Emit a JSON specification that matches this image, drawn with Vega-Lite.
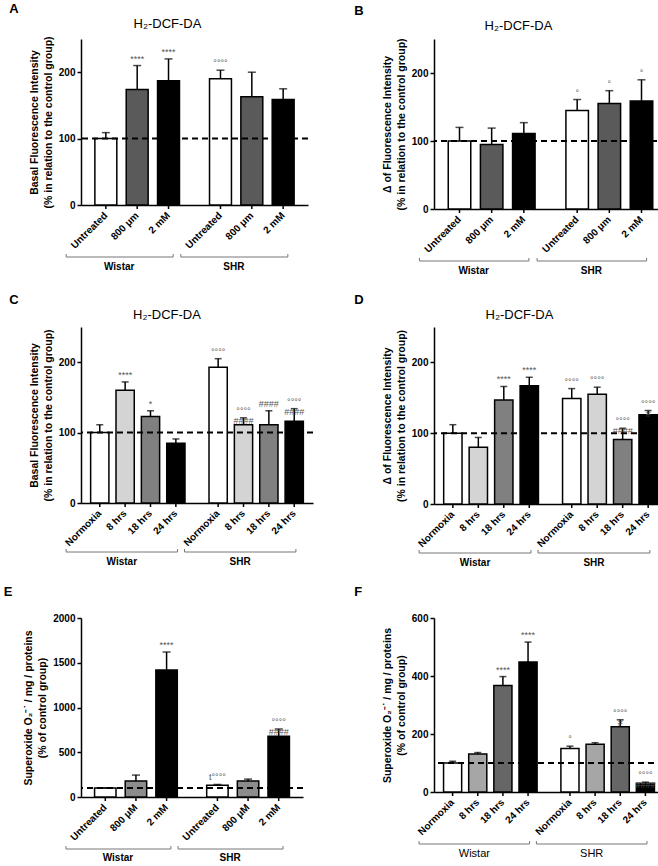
{
 "$schema": "https://vega.github.io/schema/vega-lite/v6.json",
 "background": "white",
 "padding": {"left": 3, "top": 2, "right": 0, "bottom": 0},
 "datasets": {
  "A": [
   {"group":"Wistar","cond":"Untreated","mean":100,"hi":109,"ann":""},
   {"group":"Wistar","cond":"800 μm","mean":174,"hi":210,"ann":"****"},
   {"group":"Wistar","cond":"2 mM","mean":187,"hi":220,"ann":"****"},
   {"group":"SHR","cond":"Untreated","mean":190,"hi":203,"ann":"°°°°"},
   {"group":"SHR","cond":"800 μm","mean":163,"hi":200,"ann":""},
   {"group":"SHR","cond":"2 mM","mean":159,"hi":175,"ann":""}
  ],
  "B": [
   {"group":"Wistar","cond":"Untreated","mean":100,"hi":120,"ann":""},
   {"group":"Wistar","cond":"800 μm","mean":95,"hi":119,"ann":""},
   {"group":"Wistar","cond":"2 mM","mean":111,"hi":127,"ann":""},
   {"group":"SHR","cond":"Untreated","mean":145,"hi":161,"ann":"°"},
   {"group":"SHR","cond":"800 μm","mean":155,"hi":174,"ann":"°"},
   {"group":"SHR","cond":"2 mM","mean":159,"hi":190,"ann":"°"}
  ],
  "C": [
   {"group":"Wistar","cond":"Normoxia","mean":100,"hi":111,"ann":""},
   {"group":"Wistar","cond":"8 hrs","mean":160,"hi":172,"ann":"****"},
   {"group":"Wistar","cond":"18 hrs","mean":123,"hi":131,"ann":"*"},
   {"group":"Wistar","cond":"24 hrs","mean":85,"hi":91,"ann":""},
   {"group":"SHR","cond":"Normoxia","mean":193,"hi":205,"ann":"°°°°"},
   {"group":"SHR","cond":"8 hrs","mean":111,"hi":121,"ann":"°°°°\n####"},
   {"group":"SHR","cond":"18 hrs","mean":111,"hi":131,"ann":"####"},
   {"group":"SHR","cond":"24 hrs","mean":116,"hi":134,"ann":"°°°°\n####"}
  ],
  "D": [
   {"group":"Wistar","cond":"Normoxia","mean":100,"hi":112,"ann":""},
   {"group":"Wistar","cond":"8 hrs","mean":80,"hi":94,"ann":""},
   {"group":"Wistar","cond":"18 hrs","mean":147,"hi":166,"ann":"****"},
   {"group":"Wistar","cond":"24 hrs","mean":167,"hi":179,"ann":"****"},
   {"group":"SHR","cond":"Normoxia","mean":149,"hi":163,"ann":"°°°°"},
   {"group":"SHR","cond":"8 hrs","mean":155,"hi":165,"ann":"°°°°"},
   {"group":"SHR","cond":"18 hrs","mean":91,"hi":107,"ann":"°°°°\n####"},
   {"group":"SHR","cond":"24 hrs","mean":126,"hi":132,"ann":"°°°°\n#"}
  ],
  "E": [
   {"group":"Wistar","cond":"Untreated","mean":100,"hi":100,"ann":""},
   {"group":"Wistar","cond":"800 μM","mean":180,"hi":245,"ann":""},
   {"group":"Wistar","cond":"2 mM","mean":1420,"hi":1620,"ann":"****"},
   {"group":"SHR","cond":"Untreated","mean":130,"hi":140,"ann":"t°°°°"},
   {"group":"SHR","cond":"800 μM","mean":180,"hi":200,"ann":""},
   {"group":"SHR","cond":"2 mM","mean":680,"hi":760,"ann":"°°°°\n####"}
  ],
  "F": [
   {"group":"Wistar","cond":"Normoxia","mean":100,"hi":106,"ann":""},
   {"group":"Wistar","cond":"8 hrs","mean":131,"hi":136,"ann":""},
   {"group":"Wistar","cond":"18 hrs","mean":367,"hi":398,"ann":"****"},
   {"group":"Wistar","cond":"24 hrs","mean":448,"hi":517,"ann":"****"},
   {"group":"SHR","cond":"Normoxia","mean":150,"hi":158,"ann":"°"},
   {"group":"SHR","cond":"8 hrs","mean":165,"hi":170,"ann":""},
   {"group":"SHR","cond":"18 hrs","mean":225,"hi":249,"ann":"°°°°\n#"},
   {"group":"SHR","cond":"24 hrs","mean":30,"hi":34,"ann":"°°°°\n####"}
  ]
 },
 "columns": 2,
 "spacing": {"row": 18, "column": 40},
 "resolve": {"scale": {"fill": "independent", "xOffset": "independent"}},
 "concat": [
  {
   "title": {"text":"A","anchor":"start","fontSize":13,"fontWeight":"bold","offset":2,"dx":-20},
   "vconcat": [{
    "title": {"text":"H₂-DCF-DA","fontSize":13,"fontWeight":"normal","offset":5,"frame":"group","dx":-27},
    "data": {"name":"A"},
    "width": 227, "height": 166,
    "layer": [
     {"mark":{"type":"bar","stroke":"black","strokeWidth":1.5},
      "encoding":{
       "x":{"field":"group","type":"nominal","sort":["Wistar","SHR"],"title":null,"scale":{"domain":["Wistar","SHR"],"paddingInner":0.18,"paddingOuter":0.08},"axis":{"labels":false,"ticks":false,"title":null}},
       "xOffset":{"field":"cond","type":"nominal","sort":null,"scale":{"domain":["Untreated","800 μm","2 mM"],"paddingInner":0.3,"paddingOuter":0.15}},
       "y":{"field":"mean","type":"quantitative","scale":{"domain":[0,250],"nice":false},"axis":{"values":[0,50,100,150,200,250],"format":"d","title":["Basal Fluorescence Intensity","(% in relation to the control group)"]}},
       "fill":{"field":"cond","type":"nominal","sort":null,"scale":{"domain":["Untreated","800 μm","2 mM"],"range":["white","#5a5a5a","black"]},"legend":null}}},
     {"mark":{"type":"rule","strokeWidth":1.5,"color":"black"},"encoding":{"x":{"field":"group","type":"nominal","sort":["Wistar","SHR"]},"xOffset":{"field":"cond","type":"nominal","sort":null},"y":{"field":"mean","type":"quantitative"},"y2":{"field":"hi"}}},
     {"mark":{"type":"tick","thickness":1.5,"size":8,"color":"black"},"encoding":{"x":{"field":"group","type":"nominal","sort":["Wistar","SHR"]},"xOffset":{"field":"cond","type":"nominal","sort":null},"y":{"field":"hi","type":"quantitative"}}},
     {"mark":{"type":"text","baseline":"bottom","dy":-2,"fontSize":9,"color":"#555","lineBreak":"\n","lineHeight":10},"encoding":{"x":{"field":"group","type":"nominal","sort":["Wistar","SHR"]},"xOffset":{"field":"cond","type":"nominal","sort":null},"y":{"field":"hi","type":"quantitative"},"text":{"field":"ann"}}},
     {"mark":{"type":"rule","strokeWidth":1.5,"color":"black","y2Offset":4},"encoding":{"x":{"field":"group","type":"nominal","sort":["Wistar","SHR"]},"xOffset":{"field":"cond","type":"nominal","sort":null},"y":{"datum":0},"y2":{"datum":0}}},
     {"mark":{"type":"text","angle":315,"align":"right","baseline":"middle","fontSize":10,"fontWeight":"bold","yOffset":9,"xOffset":2},"encoding":{"x":{"field":"group","type":"nominal","sort":["Wistar","SHR"]},"xOffset":{"field":"cond","type":"nominal","sort":null},"y":{"datum":0},"text":{"field":"cond"}}},
     {"transform":[{"aggregate":[{"op":"count","as":"n"}],"groupby":["group"]}],
      "layer":[
       {"mark":{"type":"rule","strokeWidth":1,"color":"#777","yOffset":52,"xOffset":-24,"x2Offset":-11},"encoding":{"x":{"field":"group","type":"nominal","sort":["Wistar","SHR"],"bandPosition":0},"x2":{"field":"group","bandPosition":1},"y":{"datum":0}}},
       {"mark":{"type":"rule","strokeWidth":1,"color":"#777","yOffset":52,"y2Offset":49,"xOffset":-24},"encoding":{"x":{"field":"group","type":"nominal","sort":["Wistar","SHR"],"bandPosition":0},"y":{"datum":0},"y2":{"datum":0}}},
       {"mark":{"type":"rule","strokeWidth":1,"color":"#777","yOffset":52,"y2Offset":49,"xOffset":-11},"encoding":{"x":{"field":"group","type":"nominal","sort":["Wistar","SHR"],"bandPosition":1},"y":{"datum":0},"y2":{"datum":0}}},
       {"mark":{"type":"text","baseline":"top","fontSize":10,"fontWeight":"bold","yOffset":57,"xOffset":-18},"encoding":{"x":{"field":"group","type":"nominal","sort":["Wistar","SHR"]},"y":{"datum":0},"text":{"field":"group"}}}
      ]},
     {"transform":[{"aggregate":[{"op":"count","as":"n"}]}],
      "mark":{"type":"rule","strokeDash":[6,4],"strokeWidth":2,"color":"black"},"encoding":{"y":{"datum":100}}}
    ]
   }]
  },
  {
   "title": {"text":"B","anchor":"start","fontSize":13,"fontWeight":"bold","offset":2,"dx":-28},
   "vconcat": [{
    "title": {"text":"H₂-DCF-DA","fontSize":13,"fontWeight":"normal","offset":5,"frame":"group","dx":-32},
    "data": {"name":"B"},
    "width": 233, "height": 170,
    "layer": [
     {"mark":{"type":"bar","stroke":"black","strokeWidth":1.5},
      "encoding":{
       "x":{"field":"group","type":"nominal","sort":["Wistar","SHR"],"title":null,"scale":{"domain":["Wistar","SHR"],"paddingInner":0.18,"paddingOuter":0.08},"axis":{"labels":false,"ticks":false,"title":null}},
       "xOffset":{"field":"cond","type":"nominal","sort":null,"scale":{"domain":["Untreated","800 μm","2 mM"],"paddingInner":0.3,"paddingOuter":0.15}},
       "y":{"field":"mean","type":"quantitative","scale":{"domain":[0,250],"nice":false},"axis":{"values":[0,50,100,150,200,250],"format":"d","title":["Δ of Fluorescence Intensity","(% in relation to the control group)"]}},
       "fill":{"field":"cond","type":"nominal","sort":null,"scale":{"domain":["Untreated","800 μm","2 mM"],"range":["white","#5a5a5a","black"]},"legend":null}}},
     {"mark":{"type":"rule","strokeWidth":1.5,"color":"black"},"encoding":{"x":{"field":"group","type":"nominal","sort":["Wistar","SHR"]},"xOffset":{"field":"cond","type":"nominal","sort":null},"y":{"field":"mean","type":"quantitative"},"y2":{"field":"hi"}}},
     {"mark":{"type":"tick","thickness":1.5,"size":8,"color":"black"},"encoding":{"x":{"field":"group","type":"nominal","sort":["Wistar","SHR"]},"xOffset":{"field":"cond","type":"nominal","sort":null},"y":{"field":"hi","type":"quantitative"}}},
     {"mark":{"type":"text","baseline":"bottom","dy":-2,"fontSize":9,"color":"#555","lineBreak":"\n","lineHeight":10},"encoding":{"x":{"field":"group","type":"nominal","sort":["Wistar","SHR"]},"xOffset":{"field":"cond","type":"nominal","sort":null},"y":{"field":"hi","type":"quantitative"},"text":{"field":"ann"}}},
     {"mark":{"type":"rule","strokeWidth":1.5,"color":"black","y2Offset":4},"encoding":{"x":{"field":"group","type":"nominal","sort":["Wistar","SHR"]},"xOffset":{"field":"cond","type":"nominal","sort":null},"y":{"datum":0},"y2":{"datum":0}}},
     {"mark":{"type":"text","angle":315,"align":"right","baseline":"middle","fontSize":10,"fontWeight":"bold","yOffset":9,"xOffset":2},"encoding":{"x":{"field":"group","type":"nominal","sort":["Wistar","SHR"]},"xOffset":{"field":"cond","type":"nominal","sort":null},"y":{"datum":0},"text":{"field":"cond"}}},
     {"transform":[{"aggregate":[{"op":"count","as":"n"}],"groupby":["group"]}],
      "layer":[
       {"mark":{"type":"rule","strokeWidth":1,"color":"#777","yOffset":52,"xOffset":-24,"x2Offset":-11},"encoding":{"x":{"field":"group","type":"nominal","sort":["Wistar","SHR"],"bandPosition":0},"x2":{"field":"group","bandPosition":1},"y":{"datum":0}}},
       {"mark":{"type":"rule","strokeWidth":1,"color":"#777","yOffset":52,"y2Offset":49,"xOffset":-24},"encoding":{"x":{"field":"group","type":"nominal","sort":["Wistar","SHR"],"bandPosition":0},"y":{"datum":0},"y2":{"datum":0}}},
       {"mark":{"type":"rule","strokeWidth":1,"color":"#777","yOffset":52,"y2Offset":49,"xOffset":-11},"encoding":{"x":{"field":"group","type":"nominal","sort":["Wistar","SHR"],"bandPosition":1},"y":{"datum":0},"y2":{"datum":0}}},
       {"mark":{"type":"text","baseline":"top","fontSize":10,"fontWeight":"bold","yOffset":57,"xOffset":-18},"encoding":{"x":{"field":"group","type":"nominal","sort":["Wistar","SHR"]},"y":{"datum":0},"text":{"field":"group"}}}
      ]},
     {"transform":[{"aggregate":[{"op":"count","as":"n"}]}],
      "mark":{"type":"rule","strokeDash":[6,4],"strokeWidth":2,"color":"black"},"encoding":{"y":{"datum":100}}}
    ]
   }]
  },
  {
   "title": {"text":"C","anchor":"start","fontSize":13,"fontWeight":"bold","offset":2,"dx":-20},
   "vconcat": [{
    "title": {"text":"H₂-DCF-DA","fontSize":13,"fontWeight":"normal","offset":5,"frame":"group","dx":-30},
    "data": {"name":"C"},
    "width": 232, "height": 176,
    "layer": [
     {"mark":{"type":"bar","stroke":"black","strokeWidth":1.5},
      "encoding":{
       "x":{"field":"group","type":"nominal","sort":["Wistar","SHR"],"title":null,"scale":{"domain":["Wistar","SHR"],"paddingInner":0.16,"paddingOuter":0.06},"axis":{"labels":false,"ticks":false,"title":null}},
       "xOffset":{"field":"cond","type":"nominal","sort":null,"scale":{"domain":["Normoxia","8 hrs","18 hrs","24 hrs"],"paddingInner":0.28,"paddingOuter":0.1}},
       "y":{"field":"mean","type":"quantitative","scale":{"domain":[0,250],"nice":false},"axis":{"values":[0,50,100,150,200,250],"format":"d","title":["Basal Fluorescence Intensity","(% in relation to the control group)"]}},
       "fill":{"field":"cond","type":"nominal","sort":null,"scale":{"domain":["Normoxia","8 hrs","18 hrs","24 hrs"],"range":["white","#d4d4d4","#808080","black"]},"legend":null}}},
     {"mark":{"type":"rule","strokeWidth":1.5,"color":"black"},"encoding":{"x":{"field":"group","type":"nominal","sort":["Wistar","SHR"]},"xOffset":{"field":"cond","type":"nominal","sort":null},"y":{"field":"mean","type":"quantitative"},"y2":{"field":"hi"}}},
     {"mark":{"type":"tick","thickness":1.5,"size":7,"color":"black"},"encoding":{"x":{"field":"group","type":"nominal","sort":["Wistar","SHR"]},"xOffset":{"field":"cond","type":"nominal","sort":null},"y":{"field":"hi","type":"quantitative"}}},
     {"mark":{"type":"text","baseline":"bottom","dy":-2,"fontSize":9,"color":"#555","lineBreak":"\n","lineHeight":10},"encoding":{"x":{"field":"group","type":"nominal","sort":["Wistar","SHR"]},"xOffset":{"field":"cond","type":"nominal","sort":null},"y":{"field":"hi","type":"quantitative"},"text":{"field":"ann"}}},
     {"mark":{"type":"rule","strokeWidth":1.5,"color":"black","y2Offset":4},"encoding":{"x":{"field":"group","type":"nominal","sort":["Wistar","SHR"]},"xOffset":{"field":"cond","type":"nominal","sort":null},"y":{"datum":0},"y2":{"datum":0}}},
     {"mark":{"type":"text","angle":315,"align":"right","baseline":"middle","fontSize":10,"fontWeight":"bold","yOffset":9,"xOffset":2},"encoding":{"x":{"field":"group","type":"nominal","sort":["Wistar","SHR"]},"xOffset":{"field":"cond","type":"nominal","sort":null},"y":{"datum":0},"text":{"field":"cond"}}},
     {"transform":[{"aggregate":[{"op":"count","as":"n"}],"groupby":["group"]}],
      "layer":[
       {"mark":{"type":"rule","strokeWidth":1,"color":"#777","yOffset":49,"xOffset":-22,"x2Offset":-10},"encoding":{"x":{"field":"group","type":"nominal","sort":["Wistar","SHR"],"bandPosition":0},"x2":{"field":"group","bandPosition":1},"y":{"datum":0}}},
       {"mark":{"type":"rule","strokeWidth":1,"color":"#777","yOffset":49,"y2Offset":46,"xOffset":-22},"encoding":{"x":{"field":"group","type":"nominal","sort":["Wistar","SHR"],"bandPosition":0},"y":{"datum":0},"y2":{"datum":0}}},
       {"mark":{"type":"rule","strokeWidth":1,"color":"#777","yOffset":49,"y2Offset":46,"xOffset":-10},"encoding":{"x":{"field":"group","type":"nominal","sort":["Wistar","SHR"],"bandPosition":1},"y":{"datum":0},"y2":{"datum":0}}},
       {"mark":{"type":"text","baseline":"top","fontSize":10,"fontWeight":"bold","yOffset":54,"xOffset":-16},"encoding":{"x":{"field":"group","type":"nominal","sort":["Wistar","SHR"]},"y":{"datum":0},"text":{"field":"group"}}}
      ]},
     {"transform":[{"aggregate":[{"op":"count","as":"n"}]}],
      "mark":{"type":"rule","strokeDash":[6,4],"strokeWidth":2,"color":"black"},"encoding":{"y":{"datum":100}}}
    ]
   }]
  },
  {
   "title": {"text":"D","anchor":"start","fontSize":13,"fontWeight":"bold","offset":2,"dx":-28},
   "vconcat": [{
    "title": {"text":"H₂-DCF-DA","fontSize":13,"fontWeight":"normal","offset":5,"frame":"group","dx":-31},
    "data": {"name":"D"},
    "width": 233, "height": 177,
    "layer": [
     {"mark":{"type":"bar","stroke":"black","strokeWidth":1.5},
      "encoding":{
       "x":{"field":"group","type":"nominal","sort":["Wistar","SHR"],"title":null,"scale":{"domain":["Wistar","SHR"],"paddingInner":0.16,"paddingOuter":0.06},"axis":{"labels":false,"ticks":false,"title":null}},
       "xOffset":{"field":"cond","type":"nominal","sort":null,"scale":{"domain":["Normoxia","8 hrs","18 hrs","24 hrs"],"paddingInner":0.28,"paddingOuter":0.1}},
       "y":{"field":"mean","type":"quantitative","scale":{"domain":[0,250],"nice":false},"axis":{"values":[0,50,100,150,200,250],"format":"d","title":["Δ of Fluorescence Intensity","(% in relation to the control group)"]}},
       "fill":{"field":"cond","type":"nominal","sort":null,"scale":{"domain":["Normoxia","8 hrs","18 hrs","24 hrs"],"range":["white","#d4d4d4","#808080","black"]},"legend":null}}},
     {"mark":{"type":"rule","strokeWidth":1.5,"color":"black"},"encoding":{"x":{"field":"group","type":"nominal","sort":["Wistar","SHR"]},"xOffset":{"field":"cond","type":"nominal","sort":null},"y":{"field":"mean","type":"quantitative"},"y2":{"field":"hi"}}},
     {"mark":{"type":"tick","thickness":1.5,"size":7,"color":"black"},"encoding":{"x":{"field":"group","type":"nominal","sort":["Wistar","SHR"]},"xOffset":{"field":"cond","type":"nominal","sort":null},"y":{"field":"hi","type":"quantitative"}}},
     {"mark":{"type":"text","baseline":"bottom","dy":-2,"fontSize":9,"color":"#555","lineBreak":"\n","lineHeight":10},"encoding":{"x":{"field":"group","type":"nominal","sort":["Wistar","SHR"]},"xOffset":{"field":"cond","type":"nominal","sort":null},"y":{"field":"hi","type":"quantitative"},"text":{"field":"ann"}}},
     {"mark":{"type":"rule","strokeWidth":1.5,"color":"black","y2Offset":4},"encoding":{"x":{"field":"group","type":"nominal","sort":["Wistar","SHR"]},"xOffset":{"field":"cond","type":"nominal","sort":null},"y":{"datum":0},"y2":{"datum":0}}},
     {"mark":{"type":"text","angle":315,"align":"right","baseline":"middle","fontSize":10,"fontWeight":"bold","yOffset":9,"xOffset":2},"encoding":{"x":{"field":"group","type":"nominal","sort":["Wistar","SHR"]},"xOffset":{"field":"cond","type":"nominal","sort":null},"y":{"datum":0},"text":{"field":"cond"}}},
     {"transform":[{"aggregate":[{"op":"count","as":"n"}],"groupby":["group"]}],
      "layer":[
       {"mark":{"type":"rule","strokeWidth":1,"color":"#777","yOffset":49,"xOffset":-22,"x2Offset":-10},"encoding":{"x":{"field":"group","type":"nominal","sort":["Wistar","SHR"],"bandPosition":0},"x2":{"field":"group","bandPosition":1},"y":{"datum":0}}},
       {"mark":{"type":"rule","strokeWidth":1,"color":"#777","yOffset":49,"y2Offset":46,"xOffset":-22},"encoding":{"x":{"field":"group","type":"nominal","sort":["Wistar","SHR"],"bandPosition":0},"y":{"datum":0},"y2":{"datum":0}}},
       {"mark":{"type":"rule","strokeWidth":1,"color":"#777","yOffset":49,"y2Offset":46,"xOffset":-10},"encoding":{"x":{"field":"group","type":"nominal","sort":["Wistar","SHR"],"bandPosition":1},"y":{"datum":0},"y2":{"datum":0}}},
       {"mark":{"type":"text","baseline":"top","fontSize":10,"fontWeight":"bold","yOffset":54,"xOffset":-16},"encoding":{"x":{"field":"group","type":"nominal","sort":["Wistar","SHR"]},"y":{"datum":0},"text":{"field":"group"}}}
      ]},
     {"transform":[{"aggregate":[{"op":"count","as":"n"}]}],
      "mark":{"type":"rule","strokeDash":[6,4],"strokeWidth":2,"color":"black"},"encoding":{"y":{"datum":100}}}
    ]
   }]
  },
  {
   "title": {"text":"E","anchor":"start","fontSize":13,"fontWeight":"bold","offset":14,"dx":-20},
   "vconcat": [{
    "data": {"name":"E"},
    "width": 222, "height": 179,
    "layer": [
     {"mark":{"type":"bar","stroke":"black","strokeWidth":1.5},
      "encoding":{
       "x":{"field":"group","type":"nominal","sort":["Wistar","SHR"],"title":null,"scale":{"domain":["Wistar","SHR"],"paddingInner":0.18,"paddingOuter":0.08},"axis":{"labels":false,"ticks":false,"title":null}},
       "xOffset":{"field":"cond","type":"nominal","sort":null,"scale":{"domain":["Untreated","800 μM","2 mM"],"paddingInner":0.3,"paddingOuter":0.15}},
       "y":{"field":"mean","type":"quantitative","scale":{"domain":[0,2000],"nice":false},"axis":{"values":[0,500,1000,1500,2000],"format":"d","title":["Superoxide O₂⁻˙ / mg / proteins","(% of control group)"]}},
       "fill":{"field":"cond","type":"nominal","sort":null,"scale":{"domain":["Untreated","800 μM","2 mM"],"range":["white","#8c8c8c","black"]},"legend":null}}},
     {"mark":{"type":"rule","strokeWidth":1.5,"color":"black"},"encoding":{"x":{"field":"group","type":"nominal","sort":["Wistar","SHR"]},"xOffset":{"field":"cond","type":"nominal","sort":null},"y":{"field":"mean","type":"quantitative"},"y2":{"field":"hi"}}},
     {"mark":{"type":"tick","thickness":1.5,"size":8,"color":"black"},"encoding":{"x":{"field":"group","type":"nominal","sort":["Wistar","SHR"]},"xOffset":{"field":"cond","type":"nominal","sort":null},"y":{"field":"hi","type":"quantitative"}}},
     {"mark":{"type":"text","baseline":"bottom","dy":-2,"fontSize":9,"color":"#555","lineBreak":"\n","lineHeight":10},"encoding":{"x":{"field":"group","type":"nominal","sort":["Wistar","SHR"]},"xOffset":{"field":"cond","type":"nominal","sort":null},"y":{"field":"hi","type":"quantitative"},"text":{"field":"ann"}}},
     {"mark":{"type":"rule","strokeWidth":1.5,"color":"black","y2Offset":4},"encoding":{"x":{"field":"group","type":"nominal","sort":["Wistar","SHR"]},"xOffset":{"field":"cond","type":"nominal","sort":null},"y":{"datum":0},"y2":{"datum":0}}},
     {"mark":{"type":"text","angle":315,"align":"right","baseline":"middle","fontSize":10,"fontWeight":"bold","yOffset":9,"xOffset":2},"encoding":{"x":{"field":"group","type":"nominal","sort":["Wistar","SHR"]},"xOffset":{"field":"cond","type":"nominal","sort":null},"y":{"datum":0},"text":{"field":"cond"}}},
     {"transform":[{"aggregate":[{"op":"count","as":"n"}],"groupby":["group"]}],
      "layer":[
       {"mark":{"type":"rule","strokeWidth":1,"color":"#777","yOffset":52,"xOffset":-24,"x2Offset":-11},"encoding":{"x":{"field":"group","type":"nominal","sort":["Wistar","SHR"],"bandPosition":0},"x2":{"field":"group","bandPosition":1},"y":{"datum":0}}},
       {"mark":{"type":"rule","strokeWidth":1,"color":"#777","yOffset":52,"y2Offset":49,"xOffset":-24},"encoding":{"x":{"field":"group","type":"nominal","sort":["Wistar","SHR"],"bandPosition":0},"y":{"datum":0},"y2":{"datum":0}}},
       {"mark":{"type":"rule","strokeWidth":1,"color":"#777","yOffset":52,"y2Offset":49,"xOffset":-11},"encoding":{"x":{"field":"group","type":"nominal","sort":["Wistar","SHR"],"bandPosition":1},"y":{"datum":0},"y2":{"datum":0}}},
       {"mark":{"type":"text","baseline":"top","fontSize":10,"fontWeight":"bold","yOffset":56,"xOffset":-18},"encoding":{"x":{"field":"group","type":"nominal","sort":["Wistar","SHR"]},"y":{"datum":0},"text":{"field":"group"}}}
      ]},
     {"transform":[{"aggregate":[{"op":"count","as":"n"}]}],
      "mark":{"type":"rule","strokeDash":[6,4],"strokeWidth":2,"color":"black"},"encoding":{"y":{"datum":100}}}
    ]
   }]
  },
  {
   "title": {"text":"F","anchor":"start","fontSize":13,"fontWeight":"bold","offset":14,"dx":-28},
   "vconcat": [{
    "data": {"name":"F"},
    "width": 230, "height": 174,
    "layer": [
     {"mark":{"type":"bar","stroke":"black","strokeWidth":1.5},
      "encoding":{
       "x":{"field":"group","type":"nominal","sort":["Wistar","SHR"],"title":null,"scale":{"domain":["Wistar","SHR"],"paddingInner":0.16,"paddingOuter":0.06},"axis":{"labels":false,"ticks":false,"title":null}},
       "xOffset":{"field":"cond","type":"nominal","sort":null,"scale":{"domain":["Normoxia","8 hrs","18 hrs","24 hrs"],"paddingInner":0.28,"paddingOuter":0.1}},
       "y":{"field":"mean","type":"quantitative","scale":{"domain":[0,600],"nice":false},"axis":{"values":[0,100,200,300,400,500,600],"format":"d","title":["Superoxide O₂⁻˙ / mg / proteins","(% of control group)"]}},
       "fill":{"field":"cond","type":"nominal","sort":null,"scale":{"domain":["Normoxia","8 hrs","18 hrs","24 hrs"],"range":["white","#a6a6a6","#666666","black"]},"legend":null}}},
     {"mark":{"type":"rule","strokeWidth":1.5,"color":"black"},"encoding":{"x":{"field":"group","type":"nominal","sort":["Wistar","SHR"]},"xOffset":{"field":"cond","type":"nominal","sort":null},"y":{"field":"mean","type":"quantitative"},"y2":{"field":"hi"}}},
     {"mark":{"type":"tick","thickness":1.5,"size":7,"color":"black"},"encoding":{"x":{"field":"group","type":"nominal","sort":["Wistar","SHR"]},"xOffset":{"field":"cond","type":"nominal","sort":null},"y":{"field":"hi","type":"quantitative"}}},
     {"mark":{"type":"text","baseline":"bottom","dy":-2,"fontSize":9,"color":"#555","lineBreak":"\n","lineHeight":10},"encoding":{"x":{"field":"group","type":"nominal","sort":["Wistar","SHR"]},"xOffset":{"field":"cond","type":"nominal","sort":null},"y":{"field":"hi","type":"quantitative"},"text":{"field":"ann"}}},
     {"mark":{"type":"rule","strokeWidth":1.5,"color":"black","y2Offset":4},"encoding":{"x":{"field":"group","type":"nominal","sort":["Wistar","SHR"]},"xOffset":{"field":"cond","type":"nominal","sort":null},"y":{"datum":0},"y2":{"datum":0}}},
     {"mark":{"type":"text","angle":315,"align":"right","baseline":"middle","fontSize":10,"fontWeight":"bold","yOffset":9,"xOffset":2},"encoding":{"x":{"field":"group","type":"nominal","sort":["Wistar","SHR"]},"xOffset":{"field":"cond","type":"nominal","sort":null},"y":{"datum":0},"text":{"field":"cond"}}},
     {"transform":[{"aggregate":[{"op":"count","as":"n"}],"groupby":["group"]}],
      "layer":[
       {"mark":{"type":"rule","strokeWidth":1,"color":"#777","yOffset":52,"xOffset":-22,"x2Offset":-10},"encoding":{"x":{"field":"group","type":"nominal","sort":["Wistar","SHR"],"bandPosition":0},"x2":{"field":"group","bandPosition":1},"y":{"datum":0}}},
       {"mark":{"type":"rule","strokeWidth":1,"color":"#777","yOffset":52,"y2Offset":49,"xOffset":-22},"encoding":{"x":{"field":"group","type":"nominal","sort":["Wistar","SHR"],"bandPosition":0},"y":{"datum":0},"y2":{"datum":0}}},
       {"mark":{"type":"rule","strokeWidth":1,"color":"#777","yOffset":52,"y2Offset":49,"xOffset":-10},"encoding":{"x":{"field":"group","type":"nominal","sort":["Wistar","SHR"],"bandPosition":1},"y":{"datum":0},"y2":{"datum":0}}},
       {"mark":{"type":"text","baseline":"top","fontSize":11,"fontWeight":"normal","yOffset":56,"xOffset":-16},"encoding":{"x":{"field":"group","type":"nominal","sort":["Wistar","SHR"]},"y":{"datum":0},"text":{"field":"group"}}}
      ]},
     {"transform":[{"aggregate":[{"op":"count","as":"n"}]}],
      "mark":{"type":"rule","strokeDash":[6,4],"strokeWidth":2,"color":"black"},"encoding":{"y":{"datum":100}}}
    ]
   }]
  }
 ],
 "config": {
  "font": "Liberation Sans",
  "view": {"stroke": null},
  "axis": {"grid": false, "domainColor": "black", "tickColor": "black", "domainWidth": 1.5, "tickWidth": 1.5, "labelColor": "black", "labelFont": "Liberation Sans", "labelFontWeight": "bold", "labelFontSize": 10, "titleColor": "black", "titleFontWeight": "bold", "titleFontSize": 10.5, "titleLineHeight": 14, "titleFont": "Liberation Sans", "tickSize": 4, "labelPadding": 2},
  "axisY": {"titlePadding": 5},
  "title": {"font": "Liberation Sans", "color": "black"}
 }
}
